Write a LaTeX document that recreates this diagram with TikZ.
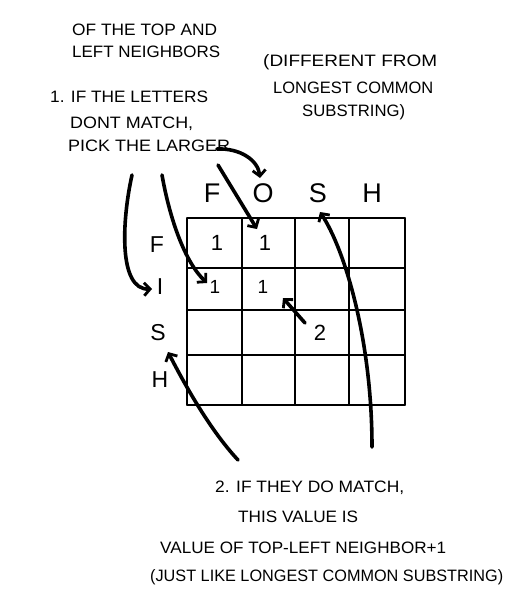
\documentclass[tikz,border=0pt]{standalone}
\usepackage{fontspec}
\setmainfont{Liberation Sans}
\usepackage{graphicx}
\usetikzlibrary{arrows.meta}
\tikzset{
  lbl/.style={font=\fontsize{16.5}{16.5}\selectfont, inner sep=0pt, anchor=west},
  hdr/.style={font=\fontsize{27}{27}\selectfont, inner sep=0pt},
  rowl/.style={font=\fontsize{23}{23}\selectfont, inner sep=0pt},
  val/.style={font=\fontsize{22}{22}\selectfont, inner sep=0pt},
  sval/.style={font=\fontsize{19}{19}\selectfont, inner sep=0pt},
  gridln/.style={line width=1.4pt, line cap=round},
  arr/.style={line width=3.6pt, line cap=round, -{Straight Barb[length=6pt,width=13pt,line width=2.8pt]}}
}
\newcommand\fitw[2]{\resizebox{#1}{\height}{#2}}
\begin{document}
\begin{tikzpicture}[x=1pt,y=-1pt]
\useasboundingbox (0,0) rectangle (527,606);
\fill[white] (0,0) rectangle (527,606);
% texts
\node[lbl] (t1) at (72,30) {\fitw{145pt}{OF THE TOP AND}};
\node[lbl] (t2) at (72,52) {\fitw{148pt}{LEFT NEIGHBORS}};
\node[lbl] (t3) at (263,62) {\fitw{174pt}{(DIFFERENT FROM}};
\node[lbl] (t4) at (273,88) {\fitw{160pt}{LONGEST COMMON}};
\node[lbl] (t5) at (302,112) {\fitw{103pt}{SUBSTRING)}};
\node[lbl] (t6) at (50,97) {\fitw{158pt}{1. IF THE LETTERS}};
\node[lbl] (t7) at (70,124) {\fitw{123pt}{DONT MATCH,}};
\node[lbl] (t8) at (68,146) {\fitw{162pt}{PICK THE LARGER}};
\node[lbl] (b1) at (215,488) {\fitw{189pt}{2. IF THEY DO MATCH,}};
\node[lbl] (b2) at (238,517) {\fitw{120pt}{THIS VALUE IS}};
\node[lbl] (b3) at (160,548) {\fitw{286pt}{VALUE OF TOP-LEFT NEIGHBOR+1}};
\node[lbl] (b4) at (150,577) {\fitw{353pt}{(JUST LIKE LONGEST COMMON SUBSTRING)}};
% grid
\foreach \x in {187,242,295,349,405} \draw[gridln] (\x,218) -- (\x,405);
\foreach \y in {218,268,310,355,405} \draw[gridln] (187,\y) -- (405,\y);
% headers
\node[hdr] (cF) at (212,193) {F};
\node[hdr] (cO) at (263,193) {O};
\node[hdr] (cS) at (318,193) {S};
\node[hdr] (cH) at (372,193) {H};
\node[rowl] (rF) at (157,245) {F};
\node[rowl] (rI) at (160,287) {I};
\node[rowl] (rS) at (158,333) {S};
\node[rowl] (rH) at (160,380) {H};
% values
\node[val] (v11) at (217,243) {1};
\node[val] (v12) at (265,243) {1};
\node[sval] (v21) at (215,287) {1};
\node[sval] (v22) at (263,287) {1};
\node[val] (v33) at (320,333) {2};
% arrow ends
\coordinate (s1) at (132,175);
\coordinate (s2) at (162,175);
\coordinate (s3) at (218,165);
\coordinate (s4) at (217,149);
\coordinate (s5) at (305,323);
\coordinate (s6) at (372,447);
\coordinate (s7) at (238,460);
\coordinate (e1) at (152,289);
\coordinate (e2) at (207,283);
\coordinate (e3) at (257,229);
\coordinate (e4) at (260,178);
\coordinate (e5) at (283,298);
\coordinate (e6) at (320,212);
\coordinate (e7) at (168,352);
% arrows
\draw[arr] (s1) .. controls (122,220) and (118,290) .. (e1);
\draw[arr] (s2) .. controls (170,220) and (185,262) .. (e2);
\draw[arr] (s3) -- (e3);
\draw[arr] (s4) .. controls (240,148) and (258,160) .. (e4);
\draw[arr] (s5) -- (e5);
\draw[arr] (s6) .. controls (372,340) and (345,250) .. (e6);
\draw[arr] (s7) .. controls (210,430) and (185,385) .. (e7);
\end{tikzpicture}
\end{document}
